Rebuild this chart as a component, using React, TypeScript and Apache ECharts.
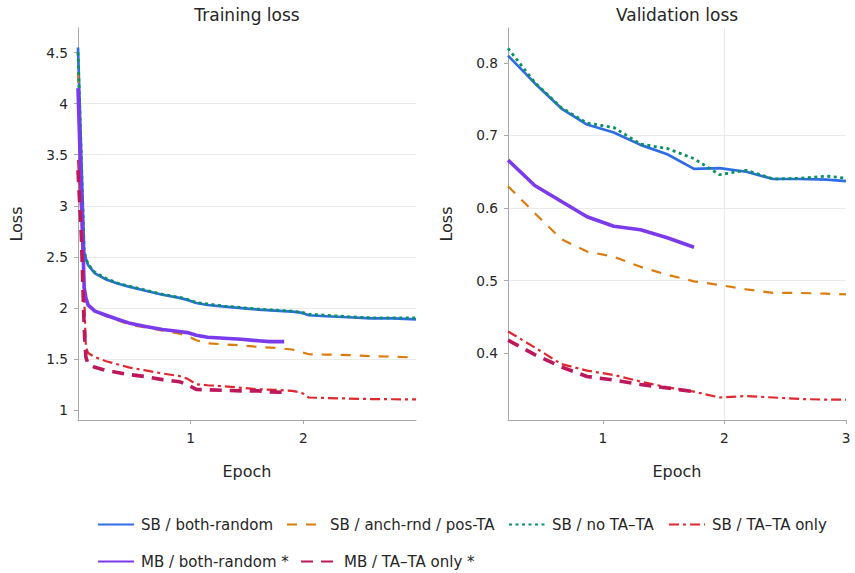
import React, { useEffect, useRef } from 'react';
import * as echarts from 'echarts';

// ---------- data ----------
const trainEpochSB = [0, 0.03, 0.055, 0.07, 0.09, 0.15, 0.25, 0.35, 0.45, 0.6, 0.75, 0.9, 0.97, 1.05, 1.15, 1.3, 1.45, 1.6, 1.75, 1.9, 1.98, 2.05, 2.2, 2.4, 2.6, 2.8, 3.0];
const trainSBBoth = [4.55, 3.46, 2.55, 2.48, 2.42, 2.34, 2.28, 2.24, 2.21, 2.17, 2.13, 2.10, 2.08, 2.05, 2.03, 2.015, 2.0, 1.985, 1.975, 1.965, 1.955, 1.93, 1.92, 1.91, 1.90, 1.90, 1.89];
const trainSBAnch = [4.3, 3.2, 2.2, 2.08, 2.02, 1.97, 1.92, 1.88, 1.84, 1.81, 1.78, 1.75, 1.73, 1.685, 1.655, 1.645, 1.635, 1.62, 1.61, 1.595, 1.57, 1.548, 1.545, 1.54, 1.53, 1.525, 1.515];
const trainSBNoTA = [4.5, 3.45, 2.56, 2.49, 2.43, 2.35, 2.29, 2.245, 2.215, 2.175, 2.135, 2.105, 2.085, 2.055, 2.04, 2.02, 2.005, 1.99, 1.98, 1.97, 1.96, 1.94, 1.93, 1.915, 1.905, 1.905, 1.905];
const trainSBTAOnly = [3.45, 2.9, 2.1, 1.62, 1.56, 1.52, 1.48, 1.45, 1.42, 1.39, 1.36, 1.335, 1.31, 1.255, 1.245, 1.235, 1.22, 1.205, 1.2, 1.19, 1.175, 1.125, 1.12, 1.115, 1.11, 1.108, 1.106];

const trainEpochMB = [0, 0.03, 0.055, 0.07, 0.09, 0.15, 0.25, 0.35, 0.45, 0.6, 0.75, 0.9, 0.97, 1.05, 1.15, 1.3, 1.45, 1.6, 1.7, 1.83];
const trainMBBoth = [4.15, 3.1, 2.2, 2.1, 2.03, 1.97, 1.93, 1.89, 1.855, 1.82, 1.79, 1.77, 1.76, 1.735, 1.715, 1.705, 1.695, 1.68, 1.672, 1.672];
const trainMBTAOnly = [3.35, 2.7, 1.8, 1.52, 1.45, 1.42, 1.39, 1.37, 1.35, 1.33, 1.30, 1.28, 1.25, 1.205, 1.2, 1.195, 1.19, 1.19, 1.18, 1.175];

const valEpoch = [0.22, 0.44, 0.66, 0.87, 1.09, 1.31, 1.53, 1.75, 1.96, 2.18, 2.4, 2.62, 2.84, 3.0];
const valSBBoth = [0.810, 0.772, 0.737, 0.715, 0.704, 0.687, 0.674, 0.654, 0.655, 0.650, 0.640, 0.640, 0.639, 0.637];
const valSBAnch = [0.630, 0.593, 0.557, 0.540, 0.533, 0.519, 0.508, 0.499, 0.494, 0.488, 0.483, 0.483, 0.482, 0.481];
const valSBNoTA = [0.820, 0.773, 0.738, 0.717, 0.711, 0.688, 0.682, 0.668, 0.646, 0.652, 0.640, 0.641, 0.644, 0.641];
const valSBTAOnly = [0.430, 0.408, 0.385, 0.376, 0.370, 0.361, 0.353, 0.347, 0.339, 0.341, 0.339, 0.337, 0.336, 0.336];
const valMBBoth = [0.666, 0.631, 0.609, 0.588, 0.575, 0.570, 0.559, 0.546];
const valMBTAOnly = [0.418, 0.398, 0.381, 0.368, 0.363, 0.357, 0.352, 0.347];

const seriesNames = [
  'SB / both-random',
  'SB / anch-rnd / pos-TA',
  'SB / no TA–TA',
  'SB / TA–TA only',
  'MB / both-random *',
  'MB / TA–TA only *',
];

const trainYTicks = [1, 1.5, 2, 2.5, 3, 3.5, 4, 4.5];
const trainXTicks = [1, 2];
const valYTicks = [0.4, 0.5, 0.6, 0.7, 0.8];
const valXTicks = [1, 2, 3];

// ---------- styles ----------
const FONT = 'DejaVu Sans';
const TEXT = '#262626';
const AXIS = '#a8a8a8';
const GRID = '#ebebeb';

const styles = [
  { color: '#2f6ce5', width: 2.7, type: 'solid' as any, z: 2 },
  { color: '#dd7c0e', width: 2.2, type: [10, 9], z: 3 },
  { color: '#0a9161', width: 2.8, type: [3, 3.5], z: 4 },
  { color: '#e0282e', width: 2.2, type: [10, 4, 3, 4], z: 5 },
  { color: '#7c3aed', width: 3.6, type: 'solid' as any, z: 6 },
  { color: '#be185d', width: 3.6, type: [12, 8], z: 7 },
];

const zip = (xs: number[], ys: number[]) => ys.map((y, i) => [xs[i], y]);

export default function App() {
  const ref = useRef<HTMLDivElement>(null);
  useEffect(() => {
    document.body.style.margin = '0';
    if (!ref.current) return;
    const chart = echarts.init(ref.current, undefined, { renderer: 'svg' });

    const trainSets = [
      zip(trainEpochSB, trainSBBoth),
      zip(trainEpochSB, trainSBAnch),
      zip(trainEpochSB, trainSBNoTA),
      zip(trainEpochSB, trainSBTAOnly),
      zip(trainEpochMB, trainMBBoth),
      zip(trainEpochMB, trainMBTAOnly),
    ];
    const valSets = [
      zip(valEpoch, valSBBoth),
      zip(valEpoch, valSBAnch),
      zip(valEpoch, valSBNoTA),
      zip(valEpoch, valSBTAOnly),
      zip(valEpoch, valMBBoth),
      zip(valEpoch, valMBTAOnly),
    ];

    const mkSeries = (sets: number[][][], idx: number) =>
      sets.map((d, i) => ({
        type: 'line',
        name: seriesNames[i],
        xAxisIndex: idx,
        yAxisIndex: idx,
        data: d,
        symbol: 'none',
        showSymbol: false,
        smooth: false,
        silent: true,
        z: styles[i].z,
        emphasis: { disabled: true },
        lineStyle: { color: styles[i].color, width: styles[i].width, type: styles[i].type, cap: 'butt', join: 'round' },
        itemStyle: { color: styles[i].color },
      }));

    const axisCommon = {
      axisLine: { show: true, onZero: false, lineStyle: { color: AXIS, width: 1 } },
      axisTick: { show: true, length: 4, lineStyle: { color: AXIS } },
      splitLine: { show: true, showMinLine: false, showMaxLine: false, lineStyle: { color: GRID, width: 1 } },
      nameTextStyle: { fontFamily: FONT, fontSize: 16, color: TEXT },
    };
    const labelCommon = { fontFamily: FONT, fontSize: 13.7, color: TEXT };

    const xAxis = (gridIndex: number, min: number, max: number, ticks: number[]) => ({
      type: 'value',
      gridIndex,
      min,
      max,
      splitNumber: 3,
      name: 'Epoch',
      nameLocation: 'middle',
      nameGap: 43,
      ...axisCommon,
      axisTick: { ...axisCommon.axisTick, customValues: ticks },
      axisLabel: { ...labelCommon, margin: 11, customValues: ticks, showMinLabel: true, showMaxLabel: true },
    });
    const yAxis = (gridIndex: number, min: number, max: number, ticks: number[], split: number) => ({
      type: 'value',
      gridIndex,
      min,
      max,
      splitNumber: split,
      name: 'Loss',
      nameLocation: 'middle',
      nameGap: 54,
      nameRotate: 90,
      ...axisCommon,
      axisTick: { ...axisCommon.axisTick, customValues: ticks },
      axisLabel: { ...labelCommon, margin: 10, customValues: ticks, formatter: (v: number) => String(+v.toFixed(2)) },
    });

    const legendPos = [
      [97, 517],
      [286, 517],
      [508, 517],
      [668, 517],
      [97, 554],
      [300, 554],
    ];

    chart.setOption({
      animation: false,
      backgroundColor: '#ffffff',
      textStyle: { fontFamily: FONT },
      grid: [
        { left: 78, right: 855 - 416, top: 28, bottom: 573 - 420, containLabel: false },
        { left: 508, right: 855 - 846, top: 28, bottom: 573 - 420, containLabel: false },
      ],
      xAxis: [xAxis(0, 0, 3, trainXTicks), xAxis(1, 0.22, 3, valXTicks)],
      yAxis: [yAxis(0, 0.905, 4.74, trainYTicks, 8), yAxis(1, 0.308, 0.848, valYTicks, 5)],
      legend: legendPos.map((p, i) => ({
        left: p[0],
        top: p[1],
        itemWidth: 36,
        itemHeight: 14,
        padding: 0,
        selectedMode: false,
        data: [seriesNames[i]],
        itemStyle: { opacity: 0 },
        textStyle: { fontFamily: FONT, fontSize: 15, color: TEXT, padding: [0, 0, 0, 2] },
      })),
      graphic: [
        { type: 'text', x: 247, y: 15, style: { text: 'Training loss', fontFamily: FONT, fontSize: 17, fill: TEXT, align: 'center', verticalAlign: 'middle' } },
        { type: 'text', x: 677, y: 15, style: { text: 'Validation loss', fontFamily: FONT, fontSize: 17, fill: TEXT, align: 'center', verticalAlign: 'middle' } },
      ],
      series: [...mkSeries(trainSets, 0), ...mkSeries(valSets, 1)],
    });

    return () => chart.dispose();
  }, []);
  return <div ref={ref} style={{ width: 855, height: 573 }} />;
}
